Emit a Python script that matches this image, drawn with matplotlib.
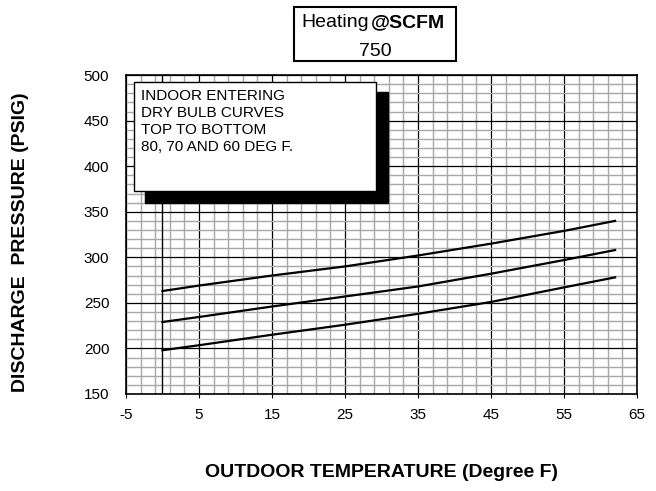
import numpy as np
import matplotlib
matplotlib.use("Agg")
import matplotlib.pyplot as plt
from matplotlib.patches import Rectangle

plt.rcParams["font.family"] = ["Liberation Sans", "DejaVu Sans"]
plt.rcParams["axes.unicode_minus"] = False

# Outdoor temperature (deg F) where each curve was read
outdoor_temp = [0, 5, 15, 25, 35, 45, 55, 62]

# Discharge pressure (PSIG) for indoor entering dry bulb 80 / 70 / 60 deg F
pressure_80 = [263, 269, 280, 290, 302, 315, 329, 340]
pressure_70 = [229, 234.5, 246, 257, 268, 282, 297, 308]
pressure_60 = [198, 203.5, 215, 226, 238, 251, 267, 278]

x_ticks = [-5, 5, 15, 25, 35, 45, 55, 65]
y_ticks = [150, 200, 250, 300, 350, 400, 450, 500]

title_left = "Heating"
title_right = "@SCFM"
title_value = "750"
note_lines = ["INDOOR ENTERING", "DRY BULB CURVES", "TOP TO BOTTOM", "80, 70 AND 60 DEG F."]


def main():
    fig = plt.figure(figsize=(6.56, 4.91), dpi=100)
    ax = fig.add_axes([0.192, 0.1976, 0.779, 0.6494])

    ax.set_xlim(-5, 65)
    ax.set_ylim(150, 500)
    ax.set_xticks(x_ticks)
    ax.set_yticks(y_ticks)
    ax.set_xticks(np.arange(-5, 66, 2), minor=True)
    ax.set_yticks(np.arange(150, 501, 10), minor=True)

    ax.grid(which="minor", color="#a8a8a8", linewidth=1.0, zorder=0)
    ax.grid(which="major", color="black", linewidth=0.9, zorder=1)
    ax.axvline(0, color="black", linewidth=1.0, zorder=1)
    ax.set_axisbelow(True)

    ax.tick_params(axis="x", which="major", length=3, pad=7, labelsize=11)
    ax.tick_params(axis="y", which="major", length=0, pad=12, labelsize=11)
    ax.tick_params(which="minor", length=0)
    for s in ax.spines.values():
        s.set_linewidth(1.2)

    for series in [pressure_80, pressure_70, pressure_60]:
        ax.plot(outdoor_temp, series, color="black", linewidth=1.6, zorder=3)

    # note box with drop shadow
    ax.add_patch(Rectangle((0.037, 0.599), 0.476, 0.348, transform=ax.transAxes,
                           facecolor="black", edgecolor="black", zorder=4))
    ax.add_patch(Rectangle((0.0157, 0.636), 0.473, 0.342, transform=ax.transAxes,
                           facecolor="white", edgecolor="black", linewidth=1.0, zorder=5))
    ax.text(0.029, 0.958, "\n".join(note_lines), transform=ax.transAxes,
            ha="left", va="top", fontsize=11, linespacing=1.3, zorder=6)

    # title box
    fig.patches.append(Rectangle((0.448, 0.876), 0.247, 0.110, transform=fig.transFigure,
                                 facecolor="white", edgecolor="black", linewidth=1.5))
    fig.text(0.5625, 0.945, title_left, ha="right", va="baseline", fontsize=14)
    fig.text(0.5655, 0.945, title_right, ha="left", va="baseline", fontsize=14,
             fontweight="bold")
    fig.text(0.5715, 0.886, title_value, ha="center", va="baseline", fontsize=14)

    fig.text(0.032, 0.507, "DISCHARGE  PRESSURE (PSIG)", rotation=90, ha="center",
             va="center", fontsize=14, fontweight="bold")
    fig.text(0.581, 0.037, "OUTDOOR TEMPERATURE (Degree F)", ha="center",
             va="center", fontsize=14, fontweight="bold")

    fig.savefig("out.png", dpi=100)
    plt.close(fig)


if __name__ == "__main__":
    main()
